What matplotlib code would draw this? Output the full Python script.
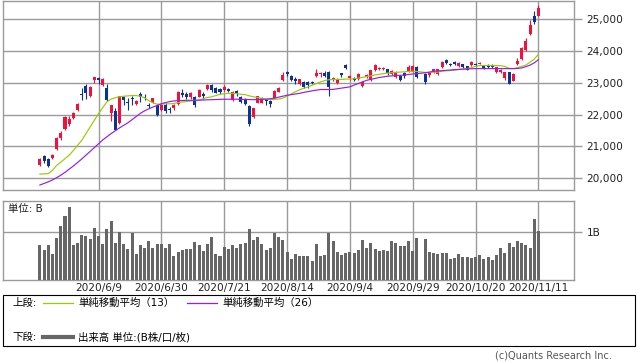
import matplotlib
matplotlib.use("Agg")
import matplotlib.pyplot as plt
from matplotlib.patches import Rectangle
from matplotlib.lines import Line2D
import numpy as np

plt.rcParams['font.family'] = ['DejaVu Sans', 'Noto Sans CJK JP']

# trading days 2020/5/20 - 2020/11/11 (10/1: no trading)
dates = ["5/20", "5/21", "5/22", "5/25", "5/26", "5/27", "5/28", "5/29",
         "6/1", "6/2", "6/3", "6/4", "6/5", "6/8", "6/9", "6/10", "6/11", "6/12",
         "6/15", "6/16", "6/17", "6/18", "6/19", "6/22", "6/23", "6/24", "6/25",
         "6/26", "6/29", "6/30",
         "7/1", "7/2", "7/3", "7/6", "7/7", "7/8", "7/9", "7/10", "7/13", "7/14",
         "7/15", "7/16", "7/17", "7/20", "7/21", "7/22", "7/27", "7/28", "7/29",
         "7/30", "7/31",
         "8/3", "8/4", "8/5", "8/6", "8/7", "8/11", "8/12", "8/13", "8/14", "8/17",
         "8/18", "8/19", "8/20", "8/21", "8/24", "8/25", "8/26", "8/27", "8/28", "8/31",
         "9/1", "9/2", "9/3", "9/4", "9/7", "9/8", "9/9", "9/10", "9/11", "9/14",
         "9/15", "9/16", "9/17", "9/18", "9/23", "9/24", "9/25", "9/28", "9/29", "9/30",
         "10/1", "10/2", "10/5", "10/6", "10/7", "10/8", "10/9", "10/12", "10/13",
         "10/14", "10/15", "10/16", "10/19", "10/20", "10/21", "10/22", "10/23",
         "10/26", "10/27", "10/28", "10/29", "10/30",
         "11/2", "11/4", "11/5", "11/6", "11/9", "11/10", "11/11"]
label_dates = ["6/9", "6/30", "7/21", "8/14", "9/4", "9/29", "10/20", "11/11"]

opens = [20400, 20680, 20600, 20630, 20900, 21250, 21560, 21700, 21880, 22150,
         22660, 22900, 22600, 23090, 23150, 22930, 22850, 22050, 22120, 21750,
         22540, 22400, 22500, 22320, 22650, 22560, 22290, 22400, 22300, 22150,
         22300, 22180, 22200, 22320, 22680, 22660, 22560, 22560, 22560, 22660,
         22800, 22920, 22840, 22820, 22770, 22800, 22460, 22730, 22560, 22500,
         22270, 21930, 22370, 22380, 22450, 22430, 22510, 22720, 23080, 23340,
         23220, 23130, 22960, 23030, 23020, 23010, 23220, 23270, 23300, 23340,
         23080, 23000, 23300, 23550, 23160, 23150, 23130, 22900, 23180, 23080,
         23400, 23430, 23440, 23430, 23270, 23190, 23210, 23310, 23340, 23350,
         23500, None, 23290, 23260, 23340, 23270, 23500, 23720, 23600, 23660,
         23530, 23585, 23520, 23550, 23610, 23600, 23550, 23570, 23560, 23340,
         23340, 23160, 23340, 23070, 23580, 23750, 24050, 24550, 25100, 25120]
highs = [20640, 20720, 20620, 20760, 21290, 21470, 21950, 21950, 22090, 22370,
         22830, 22950, 22900, 23190, 23185, 23150, 22950, 22310, 22200, 22600,
         22600, 22520, 22600, 22470, 22700, 22650, 22380, 22530, 22320, 22380,
         22350, 22250, 22320, 22730, 22800, 22700, 22700, 22600, 22800, 22700,
         22970, 22950, 22880, 22850, 22920, 22850, 22730, 22760, 22580, 22520,
         22300, 22220, 22600, 22550, 22500, 22450, 22770, 22860, 23340, 23380,
         23250, 23200, 23130, 23050, 23050, 23050, 23450, 23330, 23360, 23360,
         23200, 23150, 23320, 23600, 23250, 23180, 23300, 23050, 23280, 23420,
         23580, 23500, 23500, 23450, 23400, 23360, 23250, 23330, 23550, 23560,
         23520, None, 23300, 23330, 23450, 23450, 23680, 23750, 23640, 23700,
         23660, 23600, 23540, 23700, 23640, 23660, 23560, 23600, 23580, 23500,
         23430, 23340, 23350, 23300, 23780, 24120, 24400, 24970, 25280, 25450]
lows = [20380, 20480, 20340, 20600, 20890, 21200, 21530, 21650, 21860, 22120,
        22450, 22500, 22550, 23000, 22950, 22900, 22440, 21800, 21510, 21700,
        22300, 22140, 22300, 22300, 22400, 22450, 22200, 22380, 21950, 22100,
        22050, 22050, 22150, 22300, 22550, 22500, 22500, 22250, 22540, 22500,
        22780, 22700, 22680, 22650, 22750, 22700, 22440, 22600, 22350, 22300,
        21640, 21900, 22350, 22350, 22300, 22250, 22490, 22700, 23070, 23220,
        23050, 22980, 22940, 22850, 22850, 22950, 23200, 23200, 23180, 22600,
        23050, 22980, 23200, 23450, 23100, 23050, 23100, 22880, 23150, 23060,
        23380, 23400, 23400, 23250, 23250, 23150, 23050, 23150, 23330, 23330,
        23150, None, 22950, 23200, 23320, 23250, 23480, 23580, 23520, 23550,
        23510, 23480, 23400, 23530, 23520, 23580, 23450, 23480, 23460, 23300,
        23300, 23100, 22950, 23050, 23550, 23720, 24020, 24500, 24850, 25100]
closes = [20595, 20552, 20388, 20741, 21271, 21419, 21916, 21877, 22062, 22325,
          22613, 22695, 22863, 23178, 23091, 23124, 22472, 22305, 21530, 22582,
          22455, 22355, 22478, 22437, 22549, 22534, 22259, 22512, 21995, 22288,
          22121, 22145, 22306, 22714, 22614, 22560, 22670, 22290, 22784, 22587,
          22945, 22770, 22696, 22717, 22884, 22751, 22715, 22657, 22397, 22339,
          21710, 22195, 22573, 22514, 22418, 22329, 22750, 22843, 23249, 23289,
          23096, 23051, 23110, 22880, 22920, 22985, 23296, 23290, 23208, 22882,
          23139, 23138, 23247, 23465, 23205, 23089, 23274, 23032, 23235, 23406,
          23559, 23454, 23475, 23319, 23360, 23346, 23087, 23204, 23511, 23539,
          23185, None, 23029, 23312, 23433, 23422, 23647, 23619, 23558, 23601,
          23626, 23507, 23410, 23671, 23567, 23639, 23474, 23516, 23494, 23485,
          23418, 23331, 22977, 23295, 23695, 24105, 24325, 24839, 24905, 25349]

ma13 = [20126, 20130, 20140, 20240, 20400, 20500, 20610, 20720, 20870, 21030,
        21190, 21400, 21610, 21820, 22030, 22220, 22400, 22490, 22530, 22560,
        22580, 22590, 22600, 22600, 22580, 22530, 22440, 22370, 22330, 22330,
        22340, 22340, 22350, 22380, 22400, 22410, 22430, 22450, 22460, 22500,
        22540, 22560, 22600, 22640, 22660, 22670, 22670, 22660, 22640, 22630,
        22590, 22560, 22540, 22510, 22490, 22480, 22480, 22490, 22520, 22580,
        22650, 22720, 22780, 22830, 22870, 22930, 22980, 23030, 23070, 23100,
        23110, 23110, 23110, 23120, 23120, 23130, 23150, 23170, 23200, 23220,
        23250, 23270, 23290, 23310, 23320, 23330, 23340, 23350, 23360, 23370,
        23360, None, 23330, 23330, 23340, 23340, 23370, 23380, 23390, 23400,
        23420, 23440, 23450, 23480, 23520, 23545, 23550, 23550, 23545, 23545,
        23540, 23520, 23460, 23450, 23480, 23520, 23560, 23650, 23750, 23900]
ma26 = [19780, 19830, 19880, 19940, 20010, 20090, 20180, 20280, 20380, 20490,
        20600, 20720, 20840, 20960, 21080, 21200, 21300, 21400, 21490, 21580,
        21660, 21740, 21840, 21940, 22040, 22120, 22180, 22240, 22290, 22340,
        22380, 22410, 22430, 22440, 22445, 22450, 22450, 22450, 22455, 22460,
        22465, 22470, 22475, 22480, 22485, 22485, 22485, 22485, 22480, 22480,
        22475, 22470, 22475, 22480, 22485, 22500, 22520, 22550, 22580, 22610,
        22630, 22650, 22670, 22700, 22725, 22750, 22770, 22790, 22790, 22790,
        22795, 22815, 22835, 22855, 22875, 22930, 22980, 23030, 23080, 23110,
        23140, 23170, 23190, 23210, 23220, 23230, 23240, 23250, 23265, 23280,
        23290, None, 23320, 23340, 23365, 23375, 23385, 23395, 23405, 23418,
        23425, 23430, 23440, 23445, 23450, 23450, 23450, 23450, 23450, 23450,
        23450, 23450, 23450, 23450, 23455, 23470, 23510, 23560, 23630, 23730]

# volume, billions of shares
volumes = [0.72, 0.63, 0.72, 0.55, 0.88, 1.13, 1.34, 1.52, 0.72, 0.78,
           0.94, 0.92, 0.86, 1.09, 0.92, 0.76, 1.07, 1.22, 0.78, 1.01,
           0.74, 0.65, 0.97, 0.55, 0.72, 0.67, 0.82, 0.67, 0.74, 0.74,
           0.67, 0.74, 0.51, 0.59, 0.63, 0.65, 0.65, 0.80, 0.72, 0.61,
           0.74, 0.90, 0.54, 0.51, 0.69, 0.65, 0.72, 0.67, 0.74, 0.78,
           1.07, 0.84, 0.90, 0.74, 0.63, 0.67, 0.985, 0.90, 0.84, 0.59,
           0.44, 0.55, 0.50, 0.51, 0.51, 0.40, 0.75, 0.49, 0.53, 0.985,
           0.81, 0.58, 0.52, 0.56, 0.58, 0.56, 0.625, 0.83, 0.67, 0.77,
           0.646, 0.60, 0.625, 0.60, 0.81, 0.77, 0.71, 0.71, 0.81, 0.60,
           0.875, None, 0.854, 0.58, 0.56, 0.54, 0.56, 0.56, 0.44, 0.46,
           0.54, 0.48, 0.48, 0.46, 0.48, 0.52, 0.44, 0.48, 0.42, 0.52,
           0.667, 0.56, 0.77, 0.69, 0.81, 0.77, 0.73, 0.667, 1.27, 1.02]

UP = '#f5103c'
DOWN = '#0a3399'
GRID = '#9a9a9a'

W, H = 638, 362
fig = plt.figure(figsize=(W / 100, H / 100), dpi=100)


def px(l, t, r, b):
    return [l / W, 1 - b / H, (r - l) / W, (b - t) / H]


ax = fig.add_axes(px(3, 0.5, 574, 190))
axv = fig.add_axes(px(3, 201, 574, 280))

x = np.arange(len(dates))
tick_pos = [dates.index(d) for d in label_dates]
tick_lab = ["2020/" + d for d in label_dates]

# candles
ok = [i for i in x if closes[i] is not None]
o = np.array([opens[i] for i in ok], float)
h = np.array([highs[i] for i in ok], float)
lo = np.array([lows[i] for i in ok], float)
c = np.array([closes[i] for i in ok], float)
cols = [UP if cc > oo else DOWN for oo, cc in zip(o, c)]
ax.vlines(ok, lo, h, colors=cols, lw=0.8, zorder=3)
ax.bar(ok, np.maximum(np.abs(c - o), 30), bottom=np.minimum(o, c), width=0.72,
       color=cols, lw=0, zorder=4)

m13 = [(i, ma13[i]) for i in x if ma13[i] is not None]
m26 = [(i, ma26[i]) for i in x if ma26[i] is not None]
ax.plot(*zip(*m13), color='#99cc00', lw=0.85, zorder=5)
ax.plot(*zip(*m26), color='#9a1af0', lw=0.85, zorder=5)

xlim = (-8.8, 127.5)
ax.set_xlim(*xlim)
ax.set_ylim(19623, 25597)
ax.set_yticks(range(20000, 25001, 1000))
ax.set_yticklabels([f"{v:,}" for v in range(20000, 25001, 1000)])
ax.set_xticks(tick_pos)
ax.tick_params(axis='x', length=0, labelbottom=False)

# volume
vok = [i for i in x if volumes[i] is not None]
axv.bar(vok, [volumes[i] for i in vok], width=0.72, color='#666666', lw=0, zorder=3)
axv.set_xlim(*xlim)
axv.set_ylim(0, 1.646)
axv.set_yticks([1])
axv.set_yticklabels(["1B"])
axv.set_xticks(tick_pos)
axv.set_xticklabels(tick_lab)
axv.tick_params(axis='x', length=0, pad=2, labelsize=7.6, colors='#222222')

for a in (ax, axv):
    a.grid(True, color=GRID, lw=1.0, zorder=0)
    a.set_axisbelow(True)
    a.yaxis.tick_right()
    a.tick_params(axis='y', length=6, width=1, color=GRID, pad=3,
                  labelsize=7.6, labelcolor='#222222')
    for s in a.spines.values():
        s.set_color(GRID)
        s.set_linewidth(1.0)

fig.text(8 / W, 1 - 209 / H, "単位: B", fontsize=7.5, va='center', ha='left',
         color='#222222')

# legend box
fig.add_artist(Rectangle((3 / W, 1 - 346 / H), 632 / W, 51 / H,
                         transform=fig.transFigure, fill=False,
                         ec='black', lw=0.8))
r1, r2 = 1 - 303 / H, 1 - 337 / H
fig.text(12 / W, r1, "上段:", fontsize=7.5, va='center')
fig.add_artist(Line2D([43 / W, 73 / W], [r1, r1], transform=fig.transFigure,
                      color='#99cc00', lw=0.9))
fig.text(78 / W, r1, "単純移動平均（13）", fontsize=7.5, va='center')
fig.add_artist(Line2D([187 / W, 217 / W], [r1, r1], transform=fig.transFigure,
                      color='#9a1af0', lw=0.9))
fig.text(222 / W, r1, "単純移動平均（26）", fontsize=7.5, va='center')
fig.text(12 / W, r2, "下段:", fontsize=7.5, va='center')
fig.add_artist(Line2D([43 / W, 73 / W], [r2, r2], transform=fig.transFigure,
                      color='#666666', lw=3.0))
fig.text(78 / W, r2, "出来高 単位:(B株/口/枚)", fontsize=7.5, va='center')

fig.text(612 / W, 1 - 355 / H, "(c)Quants Research Inc.", fontsize=7,
         ha='right', va='center', color='#555555')

fig.savefig("out.png", dpi=100)
